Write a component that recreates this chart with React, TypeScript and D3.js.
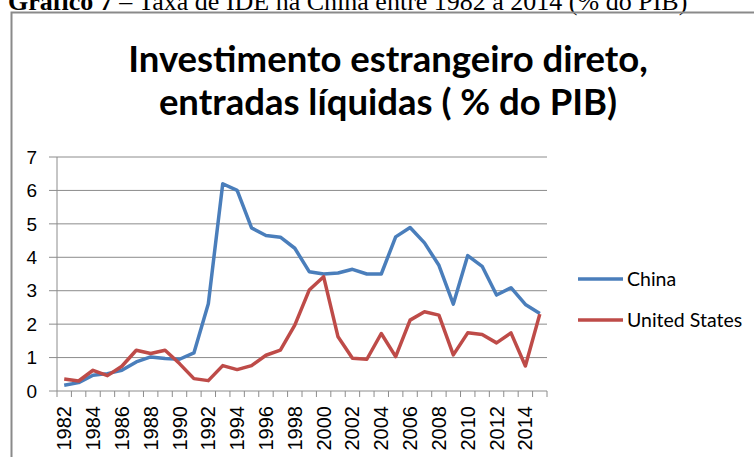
import React from "react";
import * as d3 from "d3";

const years = d3.range(1982, 2016).map(String);
const china = [
  0.17, 0.25, 0.47, 0.52, 0.62, 0.87, 1.02, 0.97, 0.95, 1.14,
  2.61, 6.2, 6.0, 4.88, 4.65, 4.6, 4.27, 3.57, 3.5, 3.53,
  3.64, 3.5, 3.5, 4.61, 4.89, 4.43, 3.76, 2.6, 4.05, 3.73,
  2.87, 3.09, 2.59, 2.32,
];
const unitedStates = [
  0.36, 0.3, 0.62, 0.46, 0.74, 1.22, 1.12, 1.22, 0.82, 0.37,
  0.31, 0.76, 0.64, 0.76, 1.07, 1.22, 1.97, 3.02, 3.42, 1.62,
  0.98, 0.95, 1.72, 1.03, 2.12, 2.37, 2.27, 1.08, 1.74, 1.69,
  1.44, 1.74, 0.75, 2.3,
];
const yTicks = [0, 1, 2, 3, 4, 5, 6, 7];

const series = [
  { name: "China", values: china, color: "#4A7EBB" },
  { name: "United States", values: unitedStates, color: "#BE4B48" },
];

const W = 754;
const H = 457;
const left = 57;
const right = 547;
const top = 157;
const bottom = 391;

export default function App() {
  const x = d3.scaleBand<string>().domain(years).range([left, right]).padding(0);
  const y = d3.scaleLinear().domain([0, 7]).range([bottom, top]);

  const line = d3
    .line<number>()
    .x((_, i) => (x(years[i]) as number) + x.bandwidth() / 2)
    .y((d) => y(d));

  // tick marks sit on the category boundaries
  const bounds = years.map((yr) => x(yr) as number).concat([right]);

  return (
    <div style={{ position: "fixed", left: 0, top: 0 }}>
      <svg width={W} height={H} style={{ display: "block", background: "#fff" }}>
        <text x={8} y={10} fontFamily="'Liberation Serif', 'Times New Roman', serif" fontSize={26} fill="#000">
          <tspan fontWeight="bold">Gráfico 7</tspan>
          <tspan> – Taxa de IDE na China entre 1982 a 2014 (% do PIB)</tspan>
        </text>

        {/* chart frame, cut off at the right and bottom */}
        <path d={`M${W + 2},12.5 H11.5 V${H + 2}`} fill="none" stroke="#8a8a8a" strokeWidth={2} />

        <g fontFamily="Lato, 'Open Sans', sans-serif" fontWeight="bold" fontSize={36.5} fill="#000" textAnchor="middle">
          <text x={388} y={72}>Investimento estrangeiro direto,</text>
          <text x={388} y={115}>entradas líquidas ( % do PIB)</text>
        </g>

        {/* gridlines */}
        {yTicks.map((t) => (
          <line key={t} x1={49} x2={right} y1={y(t)} y2={y(t)} stroke="#8c8c8c" strokeWidth={1} />
        ))}
        <line x1={left} x2={left} y1={top} y2={bottom} stroke="#8c8c8c" strokeWidth={1} />
        {bounds.map((b, i) => (
          <line key={i} x1={b} x2={b} y1={bottom} y2={bottom + 6} stroke="#8c8c8c" strokeWidth={1} />
        ))}

        <g fontFamily="'Liberation Sans', Arial, sans-serif" fill="#000">
          {yTicks.map((t) => (
            <text key={t} x={37} y={y(t)} dy="0.35em" textAnchor="end" fontSize={19}>
              {t}
            </text>
          ))}
          {years.map((yr, i) =>
            i % 2 === 0 ? (
              <text
                key={yr}
                transform={`translate(${(x(yr) as number) + x.bandwidth() / 2},406) rotate(-90)`}
                dy="0.35em"
                textAnchor="end"
                fontSize={20}
              >
                {yr}
              </text>
            ) : null
          )}
        </g>

        {series.map((s) => (
          <path
            key={s.name}
            d={line(s.values) ?? ""}
            fill="none"
            stroke={s.color}
            strokeWidth={3.5}
            strokeLinejoin="round"
          />
        ))}

        <g fontFamily="Lato, 'Open Sans', sans-serif" fontSize={19.5} fill="#000">
          {series.map((s, i) => (
            <g key={s.name} transform={`translate(578,${279 + i * 41})`}>
              <line x1={0} x2={45} y1={0} y2={0} stroke={s.color} strokeWidth={3.5} />
              <text x={49} y={0} dy="0.35em">
                {s.name}
              </text>
            </g>
          ))}
        </g>
      </svg>
    </div>
  );
}
